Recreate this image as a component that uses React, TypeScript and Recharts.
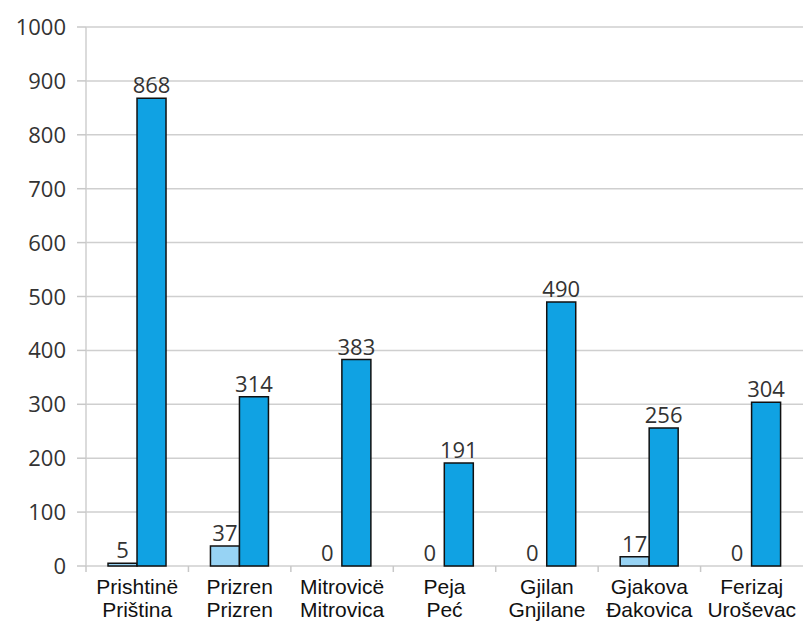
import React from "react";
import { BarChart, Bar, XAxis, YAxis, CartesianGrid, LabelList } from "recharts";

const categoriesTop = ["Prishtinë", "Prizren", "Mitrovicë", "Peja", "Gjilan", "Gjakova", "Ferizaj"];
const categoriesBottom = ["Priština", "Prizren", "Mitrovica", "Peć", "Gnjilane", "Đakovica", "Uroševac"];
const seriesA = [5, 37, 0, 0, 0, 17, 0];
const seriesB = [868, 314, 383, 191, 490, 256, 304];
const yTicks = [0, 100, 200, 300, 400, 500, 600, 700, 800, 900, 1000];

const data = categoriesTop.map((c, i) => ({
  name: c,
  sub: categoriesBottom[i],
  a: seriesA[i],
  b: seriesB[i],
}));

const numFont = "Open Sans, Noto Sans, sans-serif";
const catFont = "Liberation Sans, Arial, sans-serif";
const numStyle: React.CSSProperties = { fontFamily: numFont, fontSize: 22, fill: "#333" };
const catStyle: React.CSSProperties = { fontFamily: catFont, fontSize: 21, fill: "#111" };

const CatTick = (props: any) => {
  const { x, y, payload, index } = props;
  const d = data[index] || data.find((r) => r.name === payload.value);
  const half = 51.2;
  return (
    <g>
      <line x1={x - half} x2={x - half} y1={y - 8} y2={y - 2} stroke="#c8c8c8" strokeWidth={1.5} />
      <text x={x} y={y + 20} textAnchor="middle" style={catStyle}>
        {payload.value}
      </text>
      <text x={x} y={y + 43} textAnchor="middle" style={catStyle}>
        {d ? d.sub : ""}
      </text>
    </g>
  );
};

const YTick = (props: any) => {
  const { x, y, payload } = props;
  return (
    <text x={x} y={y + 8} textAnchor="end" style={numStyle}>
      {payload.value}
    </text>
  );
};

const LabelB = (props: any) => {
  const { x, y, width, height, value, index } = props;
  const aVal = seriesA[index];
  return (
    <g>
      <text x={x + width / 2} y={y - 5} textAnchor="middle" style={numStyle}>
        {value}
      </text>
      {aVal === 0 ? (
        <text x={x - width / 2} y={y + height - 5} textAnchor="middle" style={numStyle}>
          {aVal}
        </text>
      ) : null}
    </g>
  );
};

const LabelA = (props: any) => {
  const { x, y, width, value } = props;
  if (!value) return null;
  return (
    <text x={x + width / 2} y={y - 5} textAnchor="middle" style={numStyle}>
      {value}
    </text>
  );
};

export default function App() {
  return (
    <div style={{ position: "absolute", left: 0, top: 0, background: "#fff" }}>
      <BarChart
        width={804}
        height={622}
        data={data}
        margin={{ top: 27, right: 1, bottom: 0, left: 0 }}
        barCategoryGap="21.5%"
        barGap={0}
      >
        <CartesianGrid vertical={false} stroke="#cfcfcf" strokeWidth={1.5} />
        <XAxis
          dataKey="name"
          tick={<CatTick />}
          tickLine={false}
          axisLine={false}
          height={56}
          interval={0}
        />
        <YAxis
          domain={[0, 1000]}
          ticks={yTicks}
          width={86}
          tick={<YTick />}
          tickLine={{ stroke: "#c8c8c8", strokeWidth: 1.5 }}
          tickSize={9}
          tickMargin={11}
          axisLine={{ stroke: "#cfcfcf", strokeWidth: 1.5 }}
          interval={0}
        />
        <Bar dataKey="a" fill="#97d3f4" stroke="#111" strokeWidth={1.5} isAnimationActive={false}>
          <LabelList dataKey="a" content={<LabelA />} />
        </Bar>
        <Bar dataKey="b" fill="#10a2e3" stroke="#111" strokeWidth={1.5} isAnimationActive={false}>
          <LabelList dataKey="b" content={<LabelB />} />
        </Bar>
      </BarChart>
    </div>
  );
}
